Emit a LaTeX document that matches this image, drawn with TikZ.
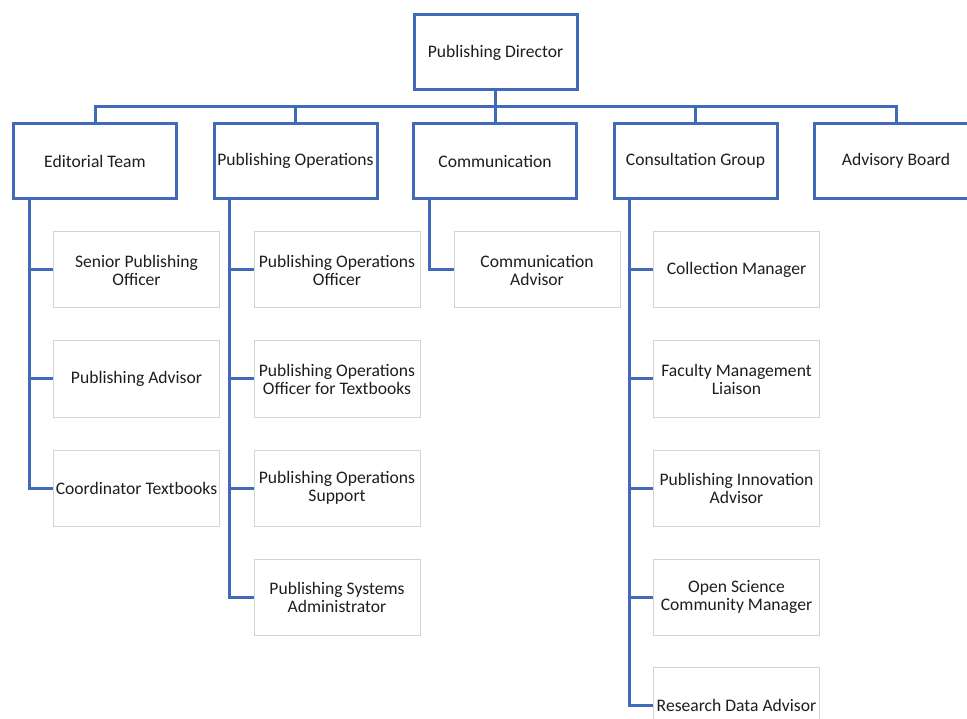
\documentclass[tikz,border=0pt]{standalone}
\usepackage{fontspec}
\setmainfont{Carlito}
\definecolor{orgblue}{RGB}{66,106,186}
\definecolor{childgray}{RGB}{212,212,212}
\definecolor{txt}{RGB}{30,30,30}
\begin{document}
\begin{tikzpicture}[x=1pt,y=-1pt,
  every node/.style={font=\fontsize{17.6}{18}\selectfont, text=txt, align=center, inner sep=0pt},
  topbox/.style={draw=orgblue, line width=3pt, fill=white, minimum width=163pt, minimum height=75pt},
  childbox/.style={draw=childgray, line width=1pt, fill=white, minimum width=166pt, minimum height=76pt},
  conn/.style={draw=orgblue, line width=3pt}]
\useasboundingbox (0,0) rectangle (967,719);
\fill[white] (0,0) rectangle (967,719);
\clip (0,0) rectangle (967,719);

\coordinate (bus) at (495,107);

\node[topbox] (dir) at (495.5,52.5) {Publishing Director};

\node[topbox] (ed) at (95,161) {Editorial Team};
\node[topbox] (po) at (295.5,161) {Publishing Operations};
\node[topbox] (cm) at (495,161) {Communication};
\node[topbox] (cg) at (695.5,161) {Consultation Group};
\node[topbox] (ab) at (896,161) {Advisory Board};

% children
\node[childbox] (ed1) at (136.5,270) {Senior Publishing\\Officer};
\node[childbox] (ed2) at (136.5,379) {Publishing Advisor};
\node[childbox] (ed3) at (136.5,488) {Coordinator Textbooks};

\node[childbox] (po1) at (337,270) {Publishing Operations\\Officer};
\node[childbox] (po2) at (337,379) {Publishing Operations\\Officer for Textbooks};
\node[childbox] (po3) at (337,488) {Publishing Operations\\Support};
\node[childbox] (po4) at (337,597) {Publishing Systems\\Administrator};

\node[childbox] (cm1) at (537,270) {Communication\\Advisor};

\node[childbox] (cg1) at (736.5,270) {Collection Manager};
\node[childbox] (cg2) at (736.5,379) {Faculty Management\\Liaison};
\node[childbox] (cg3) at (736.5,488) {Publishing Innovation\\Advisor};
\node[childbox] (cg4) at (736.5,597) {Open Science\\Community Manager};
\node[childbox] (cg5) at (736.5,705) {Research Data Advisor};

% top connectors
\draw[conn] (dir.south) -- (dir.south |- bus);
\draw[conn] (ed.north) -- (ed.north |- bus) -- (ab.north |- bus) -- (ab.north);
\draw[conn] (po.north) -- (po.north |- bus);
\draw[conn] (cm.north) -- (cm.north |- bus);
\draw[conn] (cg.north) -- (cg.north |- bus);

% child connectors
\coordinate (edv) at ([xshift=17pt]ed.south west);
\coordinate (pov) at ([xshift=17pt]po.south west);
\coordinate (cmv) at ([xshift=17pt]cm.south west);
\coordinate (cgv) at ([xshift=17pt]cg.south west);

\draw[conn] (edv) |- (ed1.west);
\draw[conn] (edv) |- (ed2.west);
\draw[conn] (edv) |- (ed3.west);

\draw[conn] (pov) |- (po1.west);
\draw[conn] (pov) |- (po2.west);
\draw[conn] (pov) |- (po3.west);
\draw[conn] (pov) |- (po4.west);

\draw[conn] (cmv) |- (cm1.west);

\draw[conn] (cgv) |- (cg1.west);
\draw[conn] (cgv) |- (cg2.west);
\draw[conn] (cgv) |- (cg3.west);
\draw[conn] (cgv) |- (cg4.west);
\draw[conn] (cgv) |- (cg5.west);
\end{tikzpicture}
\end{document}
